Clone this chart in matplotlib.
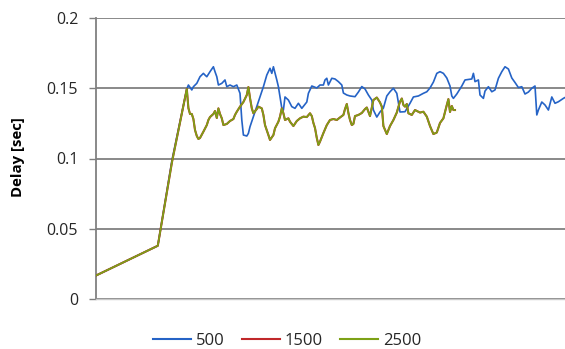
import matplotlib
matplotlib.use("Agg")
import matplotlib.pyplot as plt

# ---- data (time index, delay in seconds) ----
t_500 = [0, 30.9, 38, 45.4, 46.2, 47.9, 48.7, 50.4, 52, 53.7, 54.5, 55.4, 57, 58.7, 59.5, 60.4,
         61.2, 62.9, 64.5, 65.4, 67, 68.7, 70.4, 72, 72.9, 73.7, 75.4, 76.2, 77, 78.7, 80.4, 82,
         83.7, 85.4, 87, 87.9, 88.7, 90.4, 91.2, 92, 92.9, 93.7, 94.5, 96.2, 97.9, 99.5, 101.2,
         102.9, 105.4, 106.2, 107.9, 110.4, 112, 113.7, 114.5, 115.4, 116.2, 117.9, 119.5, 121.2,
         122.9, 123.7, 125.4, 127, 129.5, 131.2, 132.9, 134.5, 136.2, 137.9, 138.7, 140.4, 142,
         143.7, 145.4, 147, 148.7, 150.4, 152, 154.5, 157, 158.7, 161.2, 163.7, 165.4, 167, 168.7,
         170.4, 172, 173.7, 175.4, 177, 177.9, 178.7, 180.4, 182.9, 184.5, 187.9, 188.7, 189.5,
         191.2, 192, 193.7, 194.5, 196.2, 197.9, 199.5, 201.2, 202.9, 204.5, 206.2, 207.9, 209.5,
         211.2, 212.9, 214.5, 216.2, 217.9, 219.5, 220.4, 221.2, 222.9, 224.5, 226.2, 227.9, 229.5,
         231.2, 233.7, 234.5]
delay_500 = [0.0167, 0.0379, 0.0989, 0.1495, 0.1523, 0.1488, 0.1511, 0.1535, 0.1582, 0.1606, 0.1594,
             0.1582, 0.1618, 0.1653, 0.1618, 0.1582, 0.1523, 0.1535, 0.1559, 0.1511, 0.1523, 0.1511,
             0.1523, 0.1464, 0.1274, 0.1167, 0.1160, 0.1179, 0.1226, 0.1298, 0.1369, 0.1440, 0.1511,
             0.1594, 0.1642, 0.1606, 0.1653, 0.1559, 0.1511, 0.1440, 0.1359, 0.1345, 0.1438, 0.1416,
             0.1369, 0.1357, 0.1393, 0.1357, 0.1402, 0.1464, 0.1516, 0.1502, 0.1523, 0.1523, 0.1559,
             0.1571, 0.1523, 0.1571, 0.1566, 0.1547, 0.1523, 0.1466, 0.1452, 0.1445, 0.1440, 0.1473,
             0.1512, 0.1495, 0.1452, 0.1416, 0.1345, 0.1295, 0.1331, 0.1359, 0.1445, 0.1475, 0.1500,
             0.1464, 0.1331, 0.1333, 0.1393, 0.1438, 0.1445, 0.1464, 0.1475, 0.1502, 0.1544, 0.1606,
             0.1618, 0.1606, 0.1573, 0.1516, 0.1445, 0.1428, 0.1459, 0.1516, 0.1559, 0.1566, 0.1606,
             0.1547, 0.1559, 0.1452, 0.1428, 0.1480, 0.1511, 0.1475, 0.1488, 0.1571, 0.1618, 0.1653,
             0.1637, 0.1573, 0.1541, 0.1505, 0.1511, 0.1459, 0.1473, 0.1500, 0.1516, 0.1310, 0.1345,
             0.1402, 0.1381, 0.1345, 0.1438, 0.1393, 0.1404, 0.1428, 0.1434]

t_2500 = [0, 30.9, 38, 45.4, 46.2, 47, 47.9, 48.7, 49.5, 50.4, 51.2, 52, 53.7, 55.4, 56.2, 57, 58.7,
          59.5, 60.4, 61.2, 62, 62.9, 63.7, 65.4, 67, 68.7, 69.5, 70.4, 72, 73.7, 75.4, 76.2, 77,
          77.9, 78.7, 80.4, 81.2, 82.9, 83.7, 84.5, 86.2, 87, 88.7, 89.5, 91.2, 92, 92.9, 93.7, 94.5,
          96.2, 97, 98.7, 100.4, 102, 103.7, 105.4, 107, 107.9, 108.7, 109.5, 110.4, 111.2, 112,
          113.7, 115.4, 117, 118.7, 120.4, 122, 123.7, 124.5, 125.4, 126.2, 127, 127.9, 128.7, 129.5,
          131.2, 132.9, 134.5, 135.4, 137, 138.7, 140.4, 142, 142.9, 143.7, 145.4, 147, 148.7, 150.4,
          151.2, 152, 152.9, 153.7, 154.5, 155.4, 156.2, 157.9, 159.5, 162, 163.7, 165.4, 167, 168.7,
          170.4, 172, 173.7, 175.4, 176.2, 177, 177.9, 178.7, 179.5]
delay_2500 = [0.0167, 0.0379, 0.0975, 0.1495, 0.1359, 0.1317, 0.1317, 0.1281, 0.1203, 0.1160, 0.1139,
              0.1146, 0.1191, 0.1238, 0.1274, 0.1295, 0.1317, 0.1338, 0.1288, 0.1357, 0.1317, 0.1286,
              0.1238, 0.1246, 0.1267, 0.1281, 0.1310, 0.1333, 0.1369, 0.1402, 0.1452, 0.1509, 0.1431,
              0.1357, 0.1322, 0.1352, 0.1369, 0.1357, 0.1310, 0.1238, 0.1167, 0.1132, 0.1167, 0.1215,
              0.1262, 0.1298, 0.1357, 0.1322, 0.1274, 0.1286, 0.1262, 0.1231, 0.1267, 0.1286, 0.1298,
              0.1295, 0.1322, 0.1302, 0.1253, 0.1217, 0.1146, 0.1096, 0.1120, 0.1181, 0.1238, 0.1274,
              0.1281, 0.1274, 0.1292, 0.1310, 0.1352, 0.1388, 0.1324, 0.1274, 0.1238, 0.1246, 0.1302,
              0.1310, 0.1324, 0.1352, 0.1363, 0.1302, 0.1416, 0.1434, 0.1399, 0.1369, 0.1231, 0.1174,
              0.1231, 0.1274, 0.1327, 0.1367, 0.1404, 0.1427, 0.1381, 0.1369, 0.1388, 0.1322, 0.1310,
              0.1345, 0.1327, 0.1333, 0.1298, 0.1231, 0.1174, 0.1185, 0.1253, 0.1286, 0.1381, 0.1423,
              0.1331, 0.1374, 0.1345, 0.1345]

# 1500 series is drawn underneath 2500 and coincides with it
t_1500 = list(t_2500)
delay_1500 = list(delay_2500)

series_labels = ["500", "1500", "2500"]
y_ticks = [0, 0.05, 0.1, 0.15, 0.2]
y_tick_labels = ["0", "0.05", "0.1", "0.15", "0.2"]

FONT = ["Open Sans", "DejaVu Sans"]
plt.rcParams["font.family"] = FONT

BLUE = "#2563C6"
RED = "#C0282A"
GREEN = "#7DA116"

fig = plt.figure(figsize=(5.65, 3.49), dpi=100)
ax = fig.add_axes([96 / 565, 1 - 299 / 349, 469 / 565, 281 / 349])

grid_c = "#808080"
for v in y_ticks:
    ax.axhline(v, color=grid_c, lw=1.3, zorder=1)

ax.plot(t_500, delay_500, color=BLUE, lw=1.2, zorder=3)
ax.plot(t_1500, delay_1500, color=RED, lw=1.5, zorder=4)
ax.plot(t_2500, delay_2500, color=GREEN, lw=1.25, zorder=5)

ax.set_xlim(0, 234.5)
ax.set_ylim(0, 0.2)
ax.set_xticks([])
ax.set_yticks(y_ticks)
ax.set_yticklabels(y_tick_labels)
ax.tick_params(axis="y", length=4.8, width=1.0, color=grid_c, pad=8,
               labelsize=11.5, labelcolor="#262626")

for s in ["top", "right"]:
    ax.spines[s].set_visible(False)
ax.spines["left"].set_color(grid_c)
ax.spines["left"].set_linewidth(1.3)
ax.spines["bottom"].set_color("#c8c8c8")
ax.spines["bottom"].set_linewidth(1.0)

fig.text(18 / 565, 1 - 157.5 / 349, "Delay [sec]", rotation=90, ha="center", va="center",
         fontsize=10.8, fontweight="bold", color="#000000")

legend_handles = [plt.Line2D([], [], color=BLUE, lw=1.5),
                  plt.Line2D([], [], color=RED, lw=1.5),
                  plt.Line2D([], [], color=GREEN, lw=1.5)]
fig.legend(legend_handles, series_labels, loc="center", bbox_to_anchor=(287 / 565, 1 - 341 / 349),
           ncol=3, frameon=False, fontsize=12, handlelength=2.3, handletextpad=0.3,
           columnspacing=1.0, labelcolor="#262626")

fig.savefig("out.png", dpi=100)
